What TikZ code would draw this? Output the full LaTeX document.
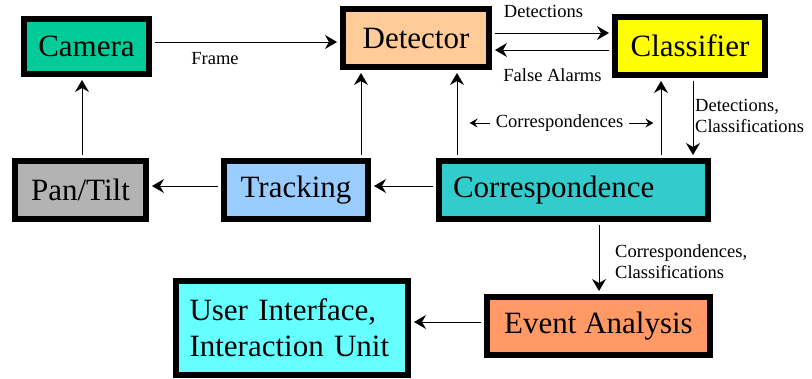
\documentclass[tikz,border=0pt]{standalone}
\usepackage{fontspec}
\setmainfont{Liberation Serif}
\usetikzlibrary{arrows.meta}
\definecolor{camc}{HTML}{00CC99}
\definecolor{detc}{HTML}{FFCC99}
\definecolor{clsc}{HTML}{FFFF00}
\definecolor{panc}{HTML}{B3B3B3}
\definecolor{trkc}{HTML}{99CCFF}
\definecolor{corc}{HTML}{33CCCC}
\definecolor{evtc}{HTML}{FF9966}
\definecolor{uic}{HTML}{66FFFF}
\begin{document}
\begin{tikzpicture}[x=1pt,y=-1pt,
  blk/.style={draw=black, line width=6pt, inner sep=0pt, font=\fontsize{31}{36}\selectfont},
  con/.style={line width=1pt, shorten >=3pt, shorten <=3pt, -{Stealth[length=12pt,width=14pt,inset=4pt]}},
  small/.style={line width=1pt, -{Stealth[length=8pt,width=9pt,inset=3pt]}},
  lbl/.style={font=\fontsize{18.5}{21.5}\selectfont, inner sep=0pt}]
\useasboundingbox (0,0) rectangle (812,378);
\node[blk, fill=camc, minimum width=125pt, minimum height=55pt] (cam) at (86.5,46.5) {Camera};
\node[blk, fill=detc, minimum width=146pt, minimum height=58pt] (det) at (416,38) {Detector};
\node[blk, fill=clsc, minimum width=150pt, minimum height=58pt] (cls) at (690,46) {Classifier};
\node[blk, fill=panc, minimum width=131pt, minimum height=58pt] (pan) at (80.5,190) {Pan/Tilt};
\node[blk, fill=trkc, minimum width=144pt, minimum height=58pt] (trk) at (296,190) {Tracking};
\node[blk, fill=corc, minimum height=58pt, text width=241pt, inner xsep=14pt, align=left] (cor) at (573.5,190) {Correspondence};
\node[blk, fill=evtc, minimum width=223pt, minimum height=58pt] (evt) at (598.5,326) {Event Analysis};
\node[blk, fill=uic, minimum height=94pt, text width=205pt, inner xsep=13.5pt, align=left] (ui) at (292,328) {User Interface,\\Interaction Unit};

\draw[con] ([yshift=4.5pt]cam.east) -- ([yshift=-4pt]det.west);
\draw[con] ([yshift=5pt]det.east) -- ([yshift=13pt]cls.west);
\draw[con] ([yshift=-4pt]cls.west) -- ([yshift=-12pt]det.east);
\draw[con] ([xshift=-116.5pt]cor.north) -- ([xshift=41pt]det.south);
\draw[con] ([xshift=87.5pt]cor.north) -- ([xshift=-29pt]cls.south);
\draw[con] ([xshift=3pt]cls.south) -- ([xshift=119.5pt]cor.north);
\draw[con] ([xshift=1.5pt]pan.north) -- ([xshift=-4.5pt]cam.south);
\draw[con] ([xshift=65pt]trk.north) -- ([xshift=-55pt]det.south);
\draw[con] ([yshift=4pt]trk.west) -- ([yshift=4pt]pan.east);
\draw[con] ([yshift=4pt]cor.west) -- ([yshift=4pt]trk.east);
\draw[con] ([xshift=25.5pt]cor.south) -- ([xshift=0.5pt]evt.north);
\draw[con] ([yshift=4pt]evt.west) -- ([yshift=6pt]ui.east);

\node[lbl] (lframe) at (215,59) {Frame};
\node[lbl] (ldet) at (543.5,11) {Detections};
\node[lbl] (lfa) at (552.5,75) {False Alarms};
\node[lbl, anchor=north west, align=left] (ldc) at (695,99) {Detections,\\Classifications};
\node[lbl, anchor=north west, align=left] (lcc) at (615,244) {Correspondences,\\Classifications};
\node[lbl] (lcor) at (559.5,123) {Correspondences};
\draw[small] ([xshift=-6pt]lcor.west) -- ++(-20,0) coordinate (la);
\draw[small] ([xshift=6pt]lcor.east) -- ++(24,0) coordinate (ra);
\end{tikzpicture}
\end{document}
